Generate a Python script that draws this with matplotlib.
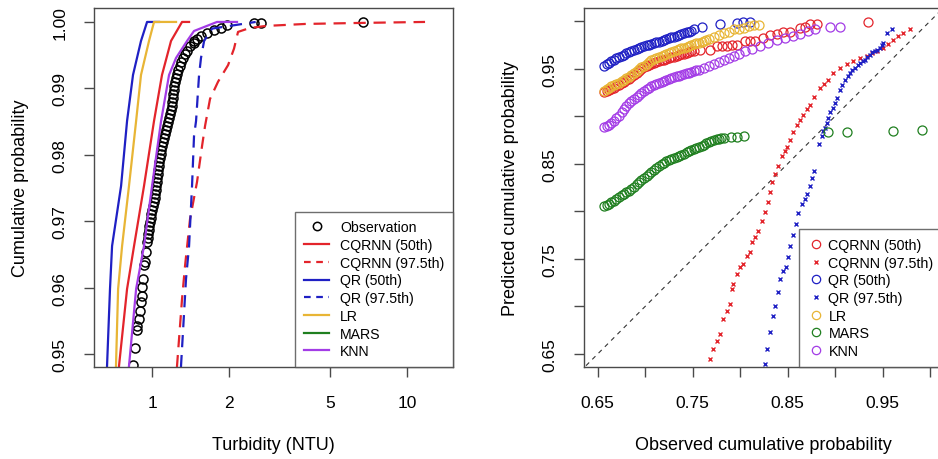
import matplotlib
matplotlib.use('Agg')
import matplotlib.pyplot as plt
from matplotlib.lines import Line2D

plt.rcParams['font.family'] = ['Liberation Sans', 'DejaVu Sans']

# ---------------- left panel: CDF of turbidity
obs_p = [0.94834, 0.95090, 0.95361, 0.95422, 0.95527, 0.95648, 0.95783, 0.95873,
         0.96009, 0.96130, 0.96340, 0.96386, 0.96536,
         0.96687, 0.96747, 0.96807, 0.96867, 0.96928, 0.96988, 0.97048, 0.97108,
         0.97169, 0.97229, 0.97289, 0.97349, 0.97410, 0.97470, 0.97530, 0.97590,
         0.97651, 0.97711, 0.97771, 0.97831, 0.97892, 0.97952, 0.98012, 0.98072,
         0.98133, 0.98193, 0.98253, 0.98313, 0.98373, 0.98434, 0.98494, 0.98554,
         0.98614, 0.98675, 0.98735, 0.98795, 0.98855, 0.98916, 0.98976, 0.99036,
         0.99096, 0.99157, 0.99217, 0.99277, 0.99337, 0.99398, 0.99458, 0.99518,
         0.99563, 0.99639, 0.99684, 0.99744, 0.99714, 0.99789, 0.99834, 0.99880,
         0.99910, 0.99955, 0.99985, 0.99985, 1.0]
obs_x = [0.842, 0.858, 0.873, 0.873, 0.889, 0.897, 0.905, 0.914,
         0.914, 0.922, 0.930, 0.939, 0.947,
         0.956, 0.961, 0.966, 0.972, 0.977, 0.982, 0.989, 0.995,
         1.003, 1.009, 1.016, 1.024, 1.029, 1.034, 1.039, 1.042,
         1.047, 1.052, 1.057, 1.063, 1.069, 1.076, 1.082, 1.089,
         1.094, 1.104, 1.114, 1.124, 1.133, 1.143, 1.153, 1.165,
         1.176, 1.186, 1.193, 1.198, 1.204, 1.210, 1.216, 1.224,
         1.234, 1.243, 1.253, 1.267, 1.282, 1.296, 1.321, 1.347,
         1.372, 1.41, 1.46, 1.50, 1.461, 1.556, 1.643, 1.750,
         1.864, 1.968, 2.512, 2.676, 6.72]

cqrnn50_p = [0.945, 0.94819, 0.95979, 0.96627, 0.97530, 0.98509, 0.99202, 0.99714, 1.0, 1.0]
cqrnn50_x = [0.735, 0.742, 0.798, 0.850, 0.930, 1.018, 1.094, 1.187, 1.311, 1.397]

cqrnn975_p = [0.945, 0.94819, 0.95828, 0.96325, 0.97030, 0.97590, 0.98133, 0.98434,
              0.98840, 0.99100, 0.99350, 0.99600, 0.99850, 0.99910, 0.99940, 0.99970,
              0.99985, 1.0]
cqrnn975_x = [1.24, 1.253, 1.311, 1.347, 1.409, 1.501, 1.571, 1.614,
              1.688, 1.815, 1.987, 2.097, 2.174, 2.42, 2.8, 4.0,
              6.5, 11.77]

qr50_p = [0.945, 0.94819, 0.95979, 0.96627, 0.97530, 0.98509, 0.99202, 0.99714, 1.0, 1.0]
qr50_x = [0.660, 0.666, 0.684, 0.697, 0.756, 0.798, 0.842, 0.905, 0.956, 1.065]

qr975_p = [0.945, 0.94819, 0.96130, 0.96627, 0.97530, 0.98283, 0.98509, 0.99202,
           0.99458, 0.99714, 0.99900, 1.0]
qr975_x = [1.29, 1.299, 1.359, 1.397, 1.435, 1.461, 1.488, 1.529,
           1.556, 1.600, 1.72, 2.55]

lr_p = [0.945, 0.94819, 0.95979, 0.96627, 0.97530, 0.98509, 0.99202, 0.99714, 1.0, 1.0]
lr_x = [0.718, 0.722, 0.736, 0.763, 0.812, 0.866, 0.905, 0.973, 1.018, 1.242]

knn_p = [0.945, 0.94819, 0.95979, 0.96627, 0.97530, 0.98509, 0.99202, 0.99458,
         0.99714, 0.99864, 1.0, 1.0]
knn_x = [0.80, 0.812, 0.866, 0.930, 1.000, 1.085, 1.166, 1.242,
         1.372, 1.461, 1.798, 2.154]

# ---------------- right panel: P-P plot (observed vs predicted cumulative probability)
qr50_obs = [.6566, .6593, .6619, .6645, .6672, .6698, .6724, .6751, .6777, .6803, .6830, .6856,
            .6882, .6909, .6935, .6961, .6987, .7014, .7040, .7066, .7093, .7119, .7145, .7172,
            .7198, .7224, .7251, .7277, .7303, .7330, .7356, .7382, .7408, .7435, .7461, .7487,
            .7514, .7598, .7787, .7966, .8030, .8103]
qr50_pred = [.9532, .9547, .9563, .9579, .9595, .9611, .9626, .9637, .9647, .9663, .9679, .9689,
             .9700, .9711, .9721, .9732, .9742, .9747, .9753, .9763, .9774, .9779, .9784, .9795,
             .9805, .9816, .9826, .9832, .9837, .9847, .9858, .9868, .9879, .9884, .9889, .9900,
             .9911, .9942, .9974, .9984, .9990, .9995]

lr_obs = [.6566, .6593, .6619, .6645, .6672, .6698, .6724, .6751, .6777, .6803, .6830, .6856,
          .6882, .6909, .6935, .6961, .6987, .7014, .7040, .7066, .7093, .7119, .7145, .7172,
          .7198, .7224, .7251, .7277, .7303, .7330, .7356, .7382, .7408, .7435, .7461, .7487,
          .7514, .7540, .7566, .7593, .7619, .7645, .7672, .7724, .7777, .7830, .7882, .7935,
          .7987, .8040, .8093, .8145, .8198]
lr_pred = [.9268, .9284, .9300, .9316, .9332, .9342, .9353, .9368, .9384, .9400, .9416, .9437,
           .9458, .9479, .9500, .9516, .9532, .9553, .9574, .9589, .9605, .9616, .9626, .9637,
           .9647, .9658, .9668, .9679, .9689, .9700, .9711, .9716, .9721, .9732, .9742, .9753,
           .9763, .9768, .9774, .9784, .9795, .9805, .9816, .9837, .9858, .9879, .9889, .9911,
           .9921, .9932, .9953, .9963, .9963]

cqrnn50_obs = [.6566, .6593, .6619, .6645, .6672, .6698, .6724, .6751, .6777, .6803, .6830, .6856,
               .6882, .6909, .6935, .6961, .6987, .7014, .7040, .7066, .7093, .7119, .7145, .7172,
               .7198, .7224, .7251, .7277, .7303, .7330, .7356, .7382, .7408, .7435, .7461, .7487,
               .7514, .7577, .7682, .7756, .7808, .7861, .7914, .7966, .8051, .8104, .8156, .8240,
               .8314, .8388, .8451, .8524, .8630, .8683, .8735, .8809, .9346]
cqrnn50_pred = [.9258, .9268, .9279, .9289, .9300, .9316, .9332, .9347, .9363, .9379, .9395, .9416,
                .9437, .9458, .9479, .9500, .9521, .9532, .9542, .9553, .9563, .9574, .9584, .9589,
                .9595, .9605, .9616, .9621, .9626, .9637, .9647, .9653, .9658, .9668, .9679, .9684,
                .9689, .9700, .9700, .9742, .9742, .9742, .9753, .9753, .9795, .9795, .9795, .9826,
                .9858, .9868, .9889, .9889, .9932, .9942, .9974, .9974, .9995]

knn_obs = [.6566, .6593, .6619, .6645, .6672, .6698, .6724, .6751, .6777, .6803, .6830, .6856,
           .6882, .6909, .6935, .6961, .6987, .7014, .7040, .7066, .7093, .7119, .7145, .7172,
           .7198, .7224, .7251, .7277, .7303, .7330, .7356, .7382, .7408, .7435, .7461, .7487,
           .7514, .7540, .7566, .7619, .7672, .7724, .7777, .7830, .7882, .7935, .7987, .8051,
           .8125, .8209, .8293, .8388, .8472, .8556, .8630, .8714, .8788, .8946, .9051]
knn_pred = [.8889, .8900, .8911, .8932, .8953, .8979, .9005, .9042, .9079, .9111, .9142, .9163,
            .9184, .9205, .9226, .9247, .9268, .9284, .9300, .9316, .9332, .9342, .9353, .9363,
            .9374, .9384, .9395, .9405, .9416, .9421, .9426, .9437, .9447, .9453, .9458, .9468,
            .9479, .9484, .9489, .9511, .9532, .9553, .9574, .9595, .9616, .9637, .9658, .9689,
            .9711, .9742, .9774, .9805, .9826, .9847, .9868, .9900, .9911, .9942, .9942]

mars_obs = [.6566, .6593, .6619, .6645, .6672, .6698, .6724, .6751, .6777, .6803, .6830, .6856,
            .6882, .6909, .6935, .6961, .6987, .7014, .7040, .7066, .7093, .7119, .7145, .7172,
            .7198, .7224, .7251, .7277, .7303, .7330, .7356, .7382, .7408, .7435, .7461, .7487,
            .7514, .7540, .7566, .7593, .7619, .7645, .7672, .7698, .7724, .7751, .7777, .7803,
            .7830, .7904, .7966, .8040, .8924, .9124, .9608, .9914]
mars_pred = [.8058, .8068, .8079, .8095, .8111, .8132, .8153, .8168, .8184, .8200, .8216, .8237,
             .8258, .8284, .8311, .8332, .8353, .8374, .8395, .8416, .8437, .8458, .8479, .8495,
             .8511, .8526, .8542, .8553, .8563, .8574, .8584, .8595, .8605, .8621, .8637, .8647,
             .8658, .8668, .8679, .8689, .8700, .8716, .8732, .8742, .8753, .8758, .8763, .8768,
             .8774, .8784, .8784, .8795, .8837, .8837, .8847, .8858]

cqrnn975_obs = [.7680, .7716, .7756, .7787, .7820, .7860, .7893, .7914, .7925, .7966, .7998, .8030,
                .8070, .8100, .8125, .8157, .8188, .8230, .8262, .8293, .8314, .8335, .8366, .8400,
                .8440, .8472, .8495, .8525, .8560, .8600, .8630, .8660, .8700, .8735, .8780, .8840,
                .8880, .8925, .8980, .9050, .9120, .9190, .9260, .9335, .9390, .9440, .9505, .9560,
                .9610, .9660, .9716, .9790]
cqrnn975_pred = [.6447, .6553, .6637, .6710, .6868, .6953, .7026, .7184, .7237, .7342, .7416, .7447,
                 .7532, .7574, .7679, .7732, .7795, .7900, .7995, .8100, .8205, .8310, .8395, .8479,
                 .8584, .8637, .8680, .8753, .8830, .8910, .8960, .9016, .9070, .9120, .9200, .9300,
                 .9340, .9384, .9450, .9510, .9550, .9584, .9610, .9637, .9660, .9690, .9720, .9760,
                 .9805, .9840, .9879, .9911]

qr975_obs = [.8261, .8282, .8314, .8346, .8367, .8398, .8419, .8451, .8482, .8503, .8524, .8556,
             .8588, .8609, .8651, .8682, .8703, .8735, .8756, .8777, .8830, .8860, .8875, .8894,
             .8910, .8925, .8950, .8977, .9000, .9020, .9050, .9075, .9105, .9130, .9157, .9180,
             .9210, .9235, .9260, .9290, .9314, .9340, .9366, .9390, .9420, .9445, .9470, .9490,
             .9505, .9545, .9600]
qr975_pred = [.6395, .6553, .6732, .6900, .7005, .7153, .7290, .7374, .7416, .7521, .7637, .7753,
              .7868, .7984, .8079, .8132, .8184, .8268, .8353, .8426, .8710, .8795, .8840, .8879,
              .8930, .8984, .9040, .9090, .9140, .9195, .9279, .9330, .9384, .9420, .9458, .9480,
              .9510, .9540, .9563, .9580, .9595, .9620, .9647, .9670, .9690, .9700, .9720, .9750,
              .9774, .9879, .9911]

left_yticks = [0.95, 0.96, 0.97, 0.98, 0.99, 1.00]
left_xticks = [1, 2, 5, 10]
pp_ticks = [0.65, 0.70, 0.75, 0.80, 0.85, 0.90, 0.95, 1.00]
pp_ticklabels = ['0.65', '', '0.75', '', '0.85', '', '0.95', '']

RED = '#E3242B'
BLUE = '#1F20C4'
YEL = '#E8B535'
GRN = '#1F7F1F'
PUR = '#A33CE6'
FRAME = '#4a4a4a'

fig = plt.figure(figsize=(9.38, 4.6), dpi=100)
ax1 = fig.add_axes([94 / 938, 92 / 460, 359 / 938, 359 / 460])
ax2 = fig.add_axes([584 / 938, 92 / 460, 359 / 938, 359 / 460])

# ---- left
ax1.plot(obs_x, obs_p, 'o', mfc='none', mec='black', ms=6.5, mew=1.1, zorder=2)
ax1.plot(cqrnn50_x, cqrnn50_p, color=RED, lw=1.6)
ax1.plot(cqrnn975_x, cqrnn975_p, color=RED, lw=1.6, ls=(0, (5.5, 3.5)))
ax1.plot(qr50_x, qr50_p, color=BLUE, lw=1.6)
ax1.plot(qr975_x, qr975_p, color=BLUE, lw=1.6, ls=(0, (5.5, 3.5)))
ax1.plot(lr_x, lr_p, color=YEL, lw=1.6)
ax1.plot(knn_x, knn_p, color=PUR, lw=1.6)

ax1.set_xscale('log')
ax1.set_xlim(0.592, 15.15)
ax1.set_ylim(0.94804, 1.0021)
ax1.set_xticks(left_xticks)
ax1.set_xticklabels([str(t) for t in left_xticks])
ax1.xaxis.set_minor_locator(matplotlib.ticker.NullLocator())
ax1.set_yticks(left_yticks)
ax1.set_yticklabels(['%.2f' % t for t in left_yticks])
ax1.set_xlabel('Turbidity (NTU)', fontsize=13)
ax1.set_ylabel('Cumulative probability', fontsize=13)

h1 = [Line2D([], [], ls='none', marker='o', mfc='none', mec='black', ms=6, mew=1.1),
      Line2D([], [], color=RED, lw=1.6),
      Line2D([], [], color=RED, lw=1.6, ls=(0, (3, 2.5))),
      Line2D([], [], color=BLUE, lw=1.6),
      Line2D([], [], color=BLUE, lw=1.6, ls=(0, (3, 2.5))),
      Line2D([], [], color=YEL, lw=1.6),
      Line2D([], [], color=GRN, lw=1.6),
      Line2D([], [], color=PUR, lw=1.6)]
l1 = ['Observation', 'CQRNN (50th)', 'CQRNN (97.5th)', 'QR (50th)', 'QR (97.5th)',
      'LR', 'MARS', 'KNN']
leg1 = ax1.legend(h1, l1, loc='lower right', borderaxespad=0, fontsize=10.2,
                  frameon=True, fancybox=False, handlelength=1.8, handletextpad=0.75,
                  labelspacing=0.26, borderpad=0.62)
leg1.get_frame().set_edgecolor(FRAME)
leg1.get_frame().set_linewidth(1.0)

# ---- right
ax2.plot([0, 1.1], [0, 1.1], color='#333333', lw=0.8, ls=(0, (4, 4)), zorder=1)
ax2.plot(cqrnn50_obs, cqrnn50_pred, 'o', mfc='none', mec=RED, ms=6.5, mew=0.9)
ax2.plot(cqrnn975_obs, cqrnn975_pred, 'x', color=RED, ms=3.5, mew=1.0)
ax2.plot(qr50_obs, qr50_pred, 'o', mfc='none', mec=BLUE, ms=6.5, mew=0.9)
ax2.plot(qr975_obs, qr975_pred, 'x', color=BLUE, ms=3.5, mew=1.0)
ax2.plot(lr_obs, lr_pred, 'o', mfc='none', mec=YEL, ms=6.5, mew=0.9)
ax2.plot(mars_obs, mars_pred, 'o', mfc='none', mec=GRN, ms=6.5, mew=0.9)
ax2.plot(knn_obs, knn_pred, 'o', mfc='none', mec=PUR, ms=6.5, mew=0.9)

ax2.set_xlim(0.6356, 1.0135)
ax2.set_ylim(0.6363, 1.0137)
ax2.set_xticks(pp_ticks)
ax2.set_xticklabels(pp_ticklabels)
ax2.set_yticks(pp_ticks)
ax2.set_yticklabels(pp_ticklabels)
ax2.set_xlabel('Observed cumulative probability', fontsize=13)
ax2.set_ylabel('Predicted cumulative probability', fontsize=13)

h2 = [Line2D([], [], ls='none', marker='o', mfc='none', mec=RED, ms=6, mew=0.9),
      Line2D([], [], ls='none', marker='x', color=RED, ms=3.5, mew=1.0),
      Line2D([], [], ls='none', marker='o', mfc='none', mec=BLUE, ms=6, mew=0.9),
      Line2D([], [], ls='none', marker='x', color=BLUE, ms=3.5, mew=1.0),
      Line2D([], [], ls='none', marker='o', mfc='none', mec=YEL, ms=6, mew=0.9),
      Line2D([], [], ls='none', marker='o', mfc='none', mec=GRN, ms=6, mew=0.9),
      Line2D([], [], ls='none', marker='o', mfc='none', mec=PUR, ms=6, mew=0.9)]
l2 = ['CQRNN (50th)', 'CQRNN (97.5th)', 'QR (50th)', 'QR (97.5th)', 'LR', 'MARS', 'KNN']
leg2 = ax2.legend(h2, l2, loc='lower right', borderaxespad=0, fontsize=10.3,
                  frameon=True, fancybox=False, handlelength=1.0, handletextpad=0.4,
                  labelspacing=0.25, borderpad=0.65)
leg2.get_frame().set_edgecolor(FRAME)
leg2.get_frame().set_linewidth(1.0)

for ax in (ax1, ax2):
    for s in ax.spines.values():
        s.set_color(FRAME)
        s.set_linewidth(1.0)
    ax.tick_params(direction='out', length=7, width=1, color=FRAME, pad=12,
                   labelsize=12.5, labelcolor='black')
    ax.tick_params(axis='x', pad=13.5)
    ax.tick_params(axis='y', labelrotation=90)
    for lab in ax.get_yticklabels():
        lab.set_va('center')
    ax.xaxis.set_label_coords(0.5, -0.193)
    ax.yaxis.set_label_coords(-0.181, 0.5)

fig.savefig('out.png', dpi=100)
